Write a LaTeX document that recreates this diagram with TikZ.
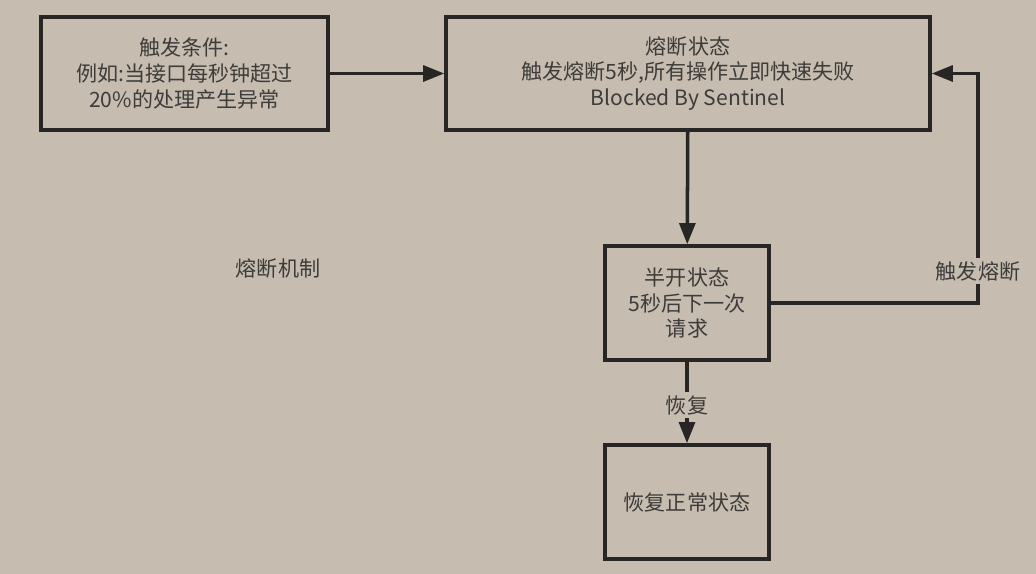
\documentclass[tikz,border=0pt]{standalone}
\usepackage{xcolor}
\usepackage{fontspec}
\newfontfamily\cjk{Noto Sans CJK SC}
\usepackage{tikz}
\usetikzlibrary{positioning}
\usetikzlibrary{shapes,calc,arrows.meta}

\definecolor{paper}{RGB}{198,189,176}
\definecolor{ink}{RGB}{40,38,36}

\begin{document}
\begin{tikzpicture}[x=0.02cm,y=-0.02cm,>={Triangle[length=12pt,width=9pt]},
  line width=2pt,draw=ink,
  state/.style={rectangle,draw=ink,line width=2pt,align=center,text=ink!90,
    font=\cjk\fontsize{12}{14.7}\selectfont},
  tag/.style={fill=paper,text=ink!90,inner sep=2pt,font=\cjk\fontsize{12}{14.7}\selectfont}]
\fill[paper] (0,0) rectangle (1036,574);
\useasboundingbox (0,0) rectangle (1036,574);
\node[state,minimum width=5.74cm,minimum height=2.26cm] at (184.5,73.5) (trigger) {触发条件:\\例如:当接口每秒钟超过\\20\%的处理产生异常};
\node[state,minimum width=9.68cm,minimum height=2.26cm] at (688,73.5) (blocked) {熔断状态\\触发熔断5秒,所有操作立即快速失败\\Blocked By Sentinel};
\node[state,minimum width=3.28cm,minimum height=2.28cm] at (687,303) (halfopen) {半开状态\\5秒后下一次\\请求};
\node[state,minimum width=3.28cm,minimum height=2.28cm] at (687,502) (recovered) {恢复正常状态};
\node[tag,fill=none] at (278,268) (title) {熔断机制};
\coordinate (turn) at (978,303);
\draw[->] (trigger) -- (blocked);
\draw[->] (blocked) -- (halfopen);
\draw[->] (halfopen.east) -- (turn) |- (blocked.east);
\node[tag] at (978,271) (retrip) {触发熔断};
\draw[->] (halfopen) -- (recovered);
\node[tag] at (687,405) (recover) {恢复};
\end{tikzpicture}
\end{document}
